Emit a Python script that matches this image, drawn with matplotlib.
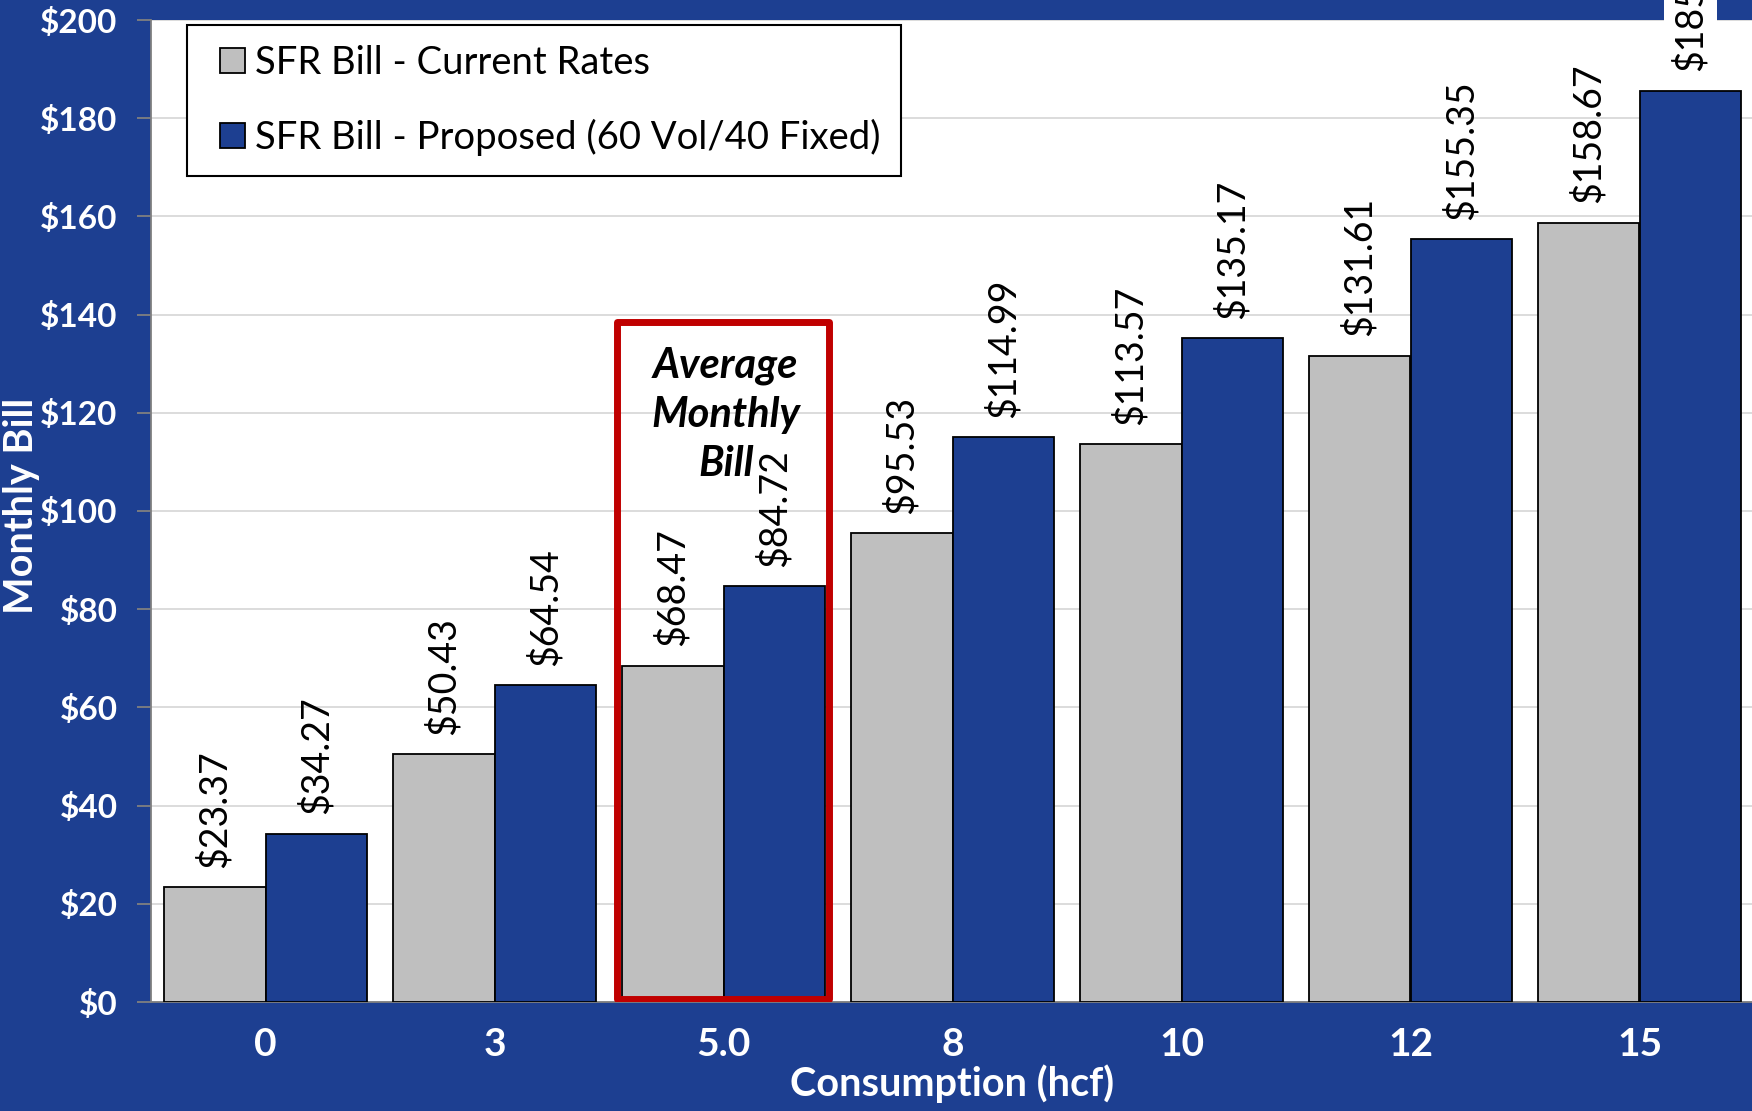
import matplotlib
matplotlib.use("Agg")
import matplotlib.pyplot as plt
from matplotlib.patches import Patch, Rectangle
from matplotlib.legend_handler import HandlerPatch
import numpy as np

categories = ["0", "3", "5.0", "8", "10", "12", "15"]
current = [23.37, 50.43, 68.47, 95.53, 113.57, 131.61, 158.67]
proposed = [34.27, 64.54, 84.72, 114.99, 135.17, 155.35, 185.62]
series_names = ["SFR Bill - Current Rates", "SFR Bill - Proposed (60 Vol/40 Fixed)"]
yticks = [0, 20, 40, 60, 80, 100, 120, 140, 160, 180, 200]
highlight_index = 2
highlight_text = "Average\nMonthly\nBill"

BG = "#1D3F91"
GRAY = "#BFBFBF"
BLUE = "#1D3F91"

plt.rcParams['font.family'] = ['Lato', 'DejaVu Sans']

W, H = 1752, 1111
fig = plt.figure(figsize=(W / 100, H / 100), dpi=100, facecolor=BG)
left, right, top, bottom = 151, 1754, 20, 1002
ax = fig.add_axes([left / W, 1 - bottom / H, (right - left) / W, (bottom - top) / H])
ax.set_facecolor("white")

x = np.arange(len(categories))
bw = 0.444
b1 = ax.bar(x - bw / 2, current, bw, color=GRAY, edgecolor="black", linewidth=1.3, zorder=3)
b2 = ax.bar(x + bw / 2, proposed, bw, color=BLUE, edgecolor="black", linewidth=1.3, zorder=3)

ax.set_xlim(-0.5, len(categories) - 0.5)
ax.set_ylim(0, 200)
ax.set_yticks(yticks)
ax.set_yticklabels([f"${v}" for v in yticks])
ax.set_xticks(x)
ax.set_xticklabels(categories)
ax.grid(axis="y", color="#D9D9D9", linewidth=1.3, zorder=0)
ax.set_axisbelow(True)

for s in ["top", "right"]:
    ax.spines[s].set_visible(False)
ax.spines["left"].set_color("#808080")
ax.spines["bottom"].set_color("#808080")
ax.spines["left"].set_linewidth(1.3)
ax.spines["bottom"].set_linewidth(1.3)

ax.tick_params(axis="y", direction="out", length=10, width=1.3, color="#808080",
               labelcolor="white", labelsize=24, pad=14)
ax.tick_params(axis="x", length=0, labelcolor="white", labelsize=28, pad=18)
for lab in ax.get_yticklabels() + ax.get_xticklabels():
    lab.set_fontweight("bold")

# data labels
for rects, vals in [(b1, current), (b2, proposed)]:
    for r, v in zip(rects, vals):
        cx = r.get_x() + r.get_width() / 2
        kw = {}
        if v > 180:
            kw = dict(bbox=dict(facecolor="white", edgecolor="none", pad=6))
        ax.annotate(f"${v:.2f}", (cx, v), xytext=(0, 14), textcoords="offset points",
                    rotation=90, ha="center", va="bottom", fontsize=27, color="black",
                    annotation_clip=False, zorder=5, **kw)

# highlight box
hx0, hx1 = highlight_index - 0.463, highlight_index + 0.459
ax.add_patch(Rectangle((hx0, 0.6), hx1 - hx0, 137.8, fill=False, edgecolor="#C00000",
                       linewidth=5, zorder=6, joinstyle="round"))
ax.text(highlight_index + 0.01, 119.6, highlight_text, ha="center", va="center",
        fontsize=30, fontweight="bold", fontstyle="italic", color="black",
        linespacing=1.36, zorder=7)

# legend
def make_sq(legend, orig_handle, xdescent, ydescent, width, height, fontsize):
    s = 0.66 * fontsize
    return Rectangle((width - s - xdescent, (height - s) / 2 - ydescent), s, s)

handles = [Patch(facecolor=GRAY, edgecolor="black", linewidth=1.3),
           Patch(facecolor=BLUE, edgecolor="black", linewidth=1.3)]
leg = fig.legend(handles, series_names, loc="upper left",
                 bbox_to_anchor=(187 / W, 1 - 25 / H), borderaxespad=0,
                 fontsize=27.5, frameon=True, fancybox=False, edgecolor="black",
                 handlelength=1.0, handleheight=0.7, handletextpad=0.27,
                 labelspacing=1.0, borderpad=0.52, framealpha=1,
                 handler_map={Patch: HandlerPatch(patch_func=make_sq)})
leg.get_frame().set_linewidth(1.5)
leg.set_zorder(10)

fig.text(952 / W, 1 - 1084 / H, "Consumption (hcf)", ha="center", va="center",
         fontsize=28.5, fontweight="bold", color="white")
fig.text(22 / W, 1 - 506 / H, "Monthly Bill", ha="center", va="center", rotation=90,
         fontsize=28.5, fontweight="bold", color="white")

fig.savefig("out.png", dpi=100, facecolor=BG)
